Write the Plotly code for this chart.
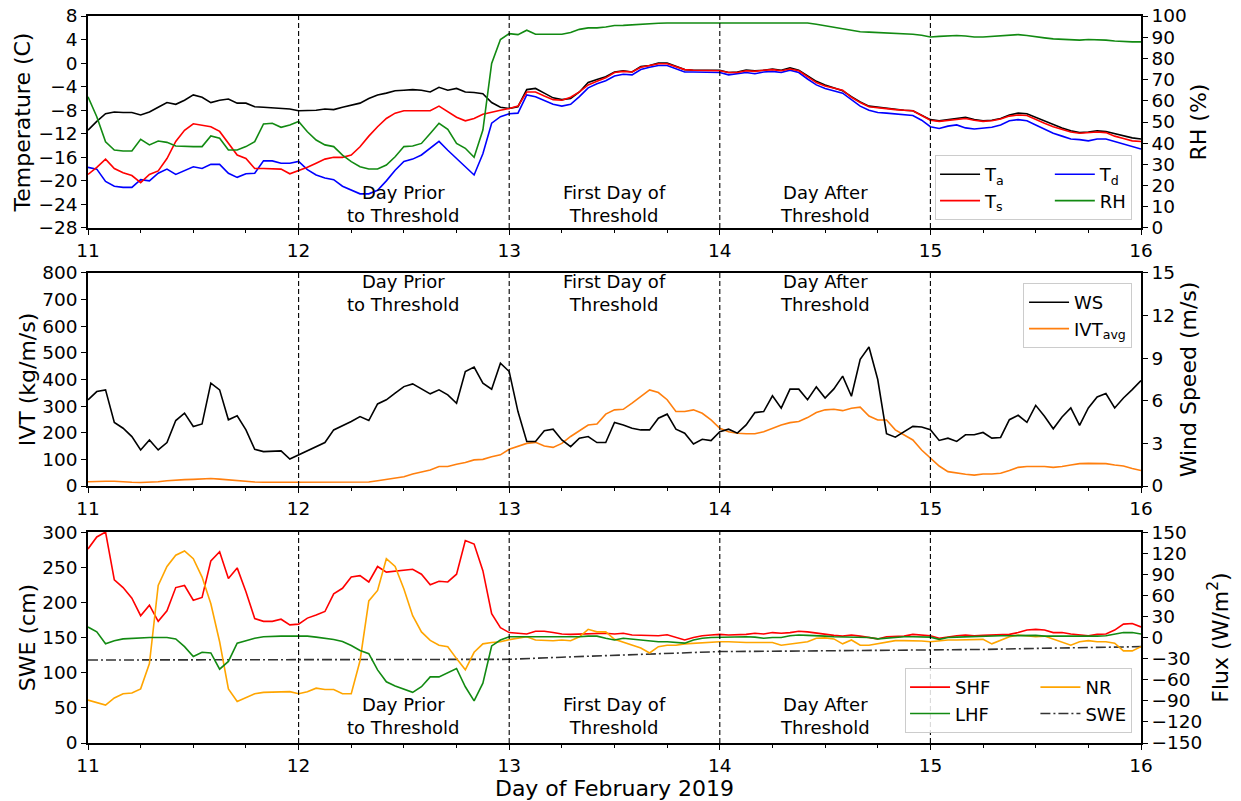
import plotly.graph_objects as go

# ---------------- data (hourly, 11 Feb 00:00 -> 16 Feb 00:00) ----------------
hours = list(range(121))
days = [11 + h / 24 for h in hours]

t_air = [-11.4, -9.9, -8.6, -8.3, -8.4, -8.4, -8.8, -8.3, -7.5, -6.7, -7.0, -6.3, -5.4, -5.8, -6.7, -6.3,
         -6.1, -6.8, -6.8, -7.4, -7.5, -7.6, -7.7, -7.8, -8.1, -8.1, -8.0, -7.8, -7.9, -7.5, -7.2, -6.8,
         -6.0, -5.4, -5.1, -4.7, -4.6, -4.5, -4.6, -4.9, -4.1, -4.6, -4.3, -4.9, -5.0, -5.2, -6.7, -7.5,
         -7.7, -7.4, -4.5, -4.3, -5.1, -5.9, -6.2, -6.0, -4.9, -3.3, -2.8, -2.3, -1.5, -1.3, -1.5, -0.6,
         -0.4, 0.0, 0.0, -0.6, -1.1, -1.2, -1.2, -1.2, -1.2, -1.6, -1.5, -1.2, -1.3, -1.2, -1.0, -1.2,
         -0.8, -1.2, -2.1, -3.1, -3.7, -4.2, -4.7, -5.7, -6.6, -7.3, -7.5, -7.7, -7.9, -8.0, -8.1, -8.8,
         -9.6, -9.8, -9.6, -9.3, -9.2, -9.6, -9.8, -9.7, -9.4, -8.8, -8.5, -8.6, -9.2, -9.9, -10.5, -11.0,
         -11.5, -11.8, -11.7, -11.5, -11.6, -12.0, -12.4, -12.7, -12.9]

t_surf = [-18.9, -17.7, -16.3, -17.9, -18.6, -19.1, -20.3, -18.9, -18.3, -16.2, -13.3, -11.4, -10.3, -10.6,
          -10.8, -11.6, -13.6, -15.6, -16.2, -17.9, -17.9, -17.9, -18.0, -18.8, -18.3, -17.7, -17.0, -16.3,
          -16.0, -16.0, -15.6, -14.2, -12.4, -10.8, -9.4, -8.5, -8.1, -8.1, -8.1, -8.1, -7.3, -8.3, -9.2,
          -9.8, -9.4, -8.7, -8.3, -8.0, -7.7, -7.3, -4.9, -4.9, -5.6, -6.2, -6.3, -5.8, -4.9, -3.7, -3.1,
          -2.5, -1.6, -1.4, -1.5, -0.7, -0.4, -0.1, -0.1, -0.6, -1.1, -1.2, -1.2, -1.3, -1.3, -1.6, -1.6,
          -1.3, -1.4, -1.2, -1.1, -1.3, -1.0, -1.3, -2.3, -3.3, -3.9, -4.3, -4.6, -5.8, -6.7, -7.4, -7.6,
          -7.7, -7.9, -8.0, -8.1, -8.9, -9.7, -9.9, -9.7, -9.5, -9.4, -9.7, -9.9, -9.8, -9.5, -9.0, -8.8,
          -8.9, -9.6, -10.2, -10.8, -11.2, -11.7, -11.9, -11.8, -11.7, -11.8, -12.4, -12.8, -13.2, -13.3]

t_dew = [-17.7, -18.0, -20.1, -20.9, -21.1, -21.1, -19.8, -20.0, -18.7, -18.0, -18.9, -18.2, -17.6, -17.9,
         -17.2, -17.2, -18.7, -19.4, -18.8, -18.7, -16.6, -16.6, -17.0, -17.0, -16.7, -18.1, -19.0, -19.5,
         -19.8, -20.9, -21.5, -22.2, -22.2, -21.6, -20.0, -18.2, -16.7, -16.3, -15.6, -14.5, -13.3, -14.8,
         -16.2, -17.6, -19.0, -15.4, -10.2, -9.1, -8.6, -8.5, -5.4, -5.7, -6.3, -7.0, -7.3, -7.0, -5.7,
         -4.2, -3.5, -3.0, -2.2, -1.9, -2.0, -1.1, -0.7, -0.4, -0.4, -1.0, -1.5, -1.5, -1.5, -1.6, -1.6,
         -2.0, -1.8, -1.6, -1.8, -1.5, -1.4, -1.6, -1.2, -1.6, -2.7, -3.7, -4.3, -4.7, -5.1, -6.2, -7.3,
         -8.0, -8.4, -8.5, -8.6, -8.7, -8.9, -9.7, -10.8, -11.1, -10.7, -10.5, -11.0, -11.2, -11.1, -10.9,
         -10.5, -9.8, -9.6, -9.8, -10.5, -11.2, -11.9, -12.4, -12.9, -13.0, -13.2, -12.9, -12.9, -13.3,
         -13.7, -14.2, -14.6]

rh = [61.9, 52.5, 40.7, 36.8, 36.3, 36.3, 41.8, 39.2, 41.0, 40.4, 38.7, 38.4, 38.4, 38.4, 43.4, 42.3,
      36.8, 36.8, 38.4, 40.7, 49.1, 49.4, 47.5, 48.6, 50.2, 45.4, 41.5, 39.2, 38.4, 34.4, 31.3, 28.9,
      27.8, 27.8, 29.7, 33.6, 38.4, 38.7, 39.9, 44.6, 49.4, 46.5, 39.9, 37.6, 33.4, 46.2, 77.6, 88.9,
      91.7, 91.2, 93.3, 91.4, 91.4, 91.2, 91.4, 92.2, 93.7, 94.4, 94.4, 94.8, 95.5, 95.6, 95.9, 96.0,
      96.4, 96.6, 96.7, 96.7, 96.7, 96.9, 96.9, 96.9, 96.9, 96.9, 96.8, 96.8, 96.9, 96.9, 96.9, 96.9,
      96.9, 96.9, 96.7, 96.1, 95.5, 94.8, 94.0, 93.3, 92.6, 92.4, 92.2, 92.0, 91.9, 91.7, 91.4, 90.9,
      90.1, 90.4, 90.6, 90.8, 90.6, 90.1, 90.1, 90.3, 90.6, 90.9, 91.2, 90.8, 90.1, 89.7, 89.2, 88.9,
      88.6, 88.6, 88.9, 88.9, 88.6, 88.2, 87.9, 87.8, 87.8]

wind_speed = [6.07, 6.65, 6.77, 4.47, 4.07, 3.48, 2.54, 3.24, 2.54, 3.06, 4.61, 5.13, 4.19, 4.37, 7.24,
              6.77, 4.66, 4.94, 3.95, 2.59, 2.42, 2.42, 2.47, 1.90, 2.19, 2.47, 2.77, 3.06, 3.95, 4.23,
              4.54, 4.89, 4.61, 5.78, 6.07, 6.54, 7.00, 7.19, 6.82, 6.49, 6.77, 6.42, 5.83, 8.06, 8.37,
              7.24, 6.82, 8.65, 8.06, 5.24, 3.13, 3.13, 3.90, 4.00, 3.24, 2.77, 3.36, 3.48, 3.06, 3.06,
              4.47, 4.30, 4.07, 3.95, 3.95, 4.77, 5.06, 4.00, 3.72, 2.96, 3.29, 3.20, 3.83, 4.00, 3.72,
              4.30, 5.17, 5.24, 6.35, 5.48, 6.82, 6.82, 6.08, 6.98, 6.20, 6.84, 7.74, 6.32, 8.92, 9.79,
              7.50, 3.68, 3.44, 3.84, 4.20, 4.15, 3.96, 3.21, 3.37, 3.14, 3.61, 3.61, 3.77, 3.37, 3.42,
              4.67, 4.98, 4.48, 5.68, 4.91, 4.03, 4.86, 5.50, 4.27, 5.50, 6.27, 6.51, 5.50, 6.20, 6.79,
              7.43]

ivt_avg = [16, 18, 18, 18, 15, 14, 13, 14, 16, 20, 23, 24, 25, 26, 28, 26, 23, 20, 18, 15, 14, 13, 14, 14,
           14, 14, 13, 13, 14, 14, 14, 14, 15, 20, 25, 28, 35, 45, 53, 60, 73, 73, 82, 88, 98, 100, 110,
           117, 138, 150, 160, 164, 150, 145, 160, 186, 207, 229, 233, 270, 286, 288, 311, 336, 361, 351,
           324, 280, 280, 286, 273, 248, 217, 204, 198, 196, 196, 204, 217, 229, 238, 242, 257, 276, 286,
           288, 283, 292, 296, 263, 248, 248, 211, 192, 173, 135, 104, 75, 54, 48, 44, 41, 45, 45, 48, 58,
           70, 73, 73, 73, 70, 73, 79, 84, 85, 85, 84, 79, 75, 66, 58]

shf = [126, 143, 150, 82, 71, 56, 31, 46, 23, 38, 71, 74, 53, 57, 109, 122, 84, 99, 65, 27, 23, 23, 26, 18,
       19, 27.6, 32, 37, 62, 70, 86, 88, 79, 101, 93, 94, 95, 97, 90, 75, 80, 79, 90, 138, 133, 95, 34, 14,
       7, 6, 5, 9, 9, 7, 5, 4.5, 5, 5, 6, 6, 5, 6, 3.5, 3, 3, 2.5, 4, 0, -3.5, 0, 2.5, 3.5, 4.5, 3.5, 3.5,
       4.5, 6, 5, 7, 6, 7, 9, 8, 6, 4, 3, 2, 3.5, 2, 0, -2, 1, 2, 2, 4.5, 3.5, 2.6, -1, 1, 2.6, 3.5, 2.6, 3,
       3.5, 3, 4.5, 7, 10.6, 11.6, 10.6, 7, 7, 5, 3.5, 2.6, 4.5, 5, 10.6, 19, 20, 15]

lhf = [15, 8, -9, -4.5, -2, -1, 0, 0, 0, 0, -2, -13, -27, -21, -22, -45, -34, -8, -4.5, -1, 1, 2, 2, 2, 2,
       2, 0.5, -0.9, -2.8, -5.7, -11.3, -18.4, -23, -46, -63, -69, -74, -78, -70, -56, -56, -50, -44, -70,
       -90, -65, -12, -3.5, 1, 1, 1, 1, 1, 1, 0, 1, 1, 2, 2, -1, -3.5, -1, -2.5, -3.5, -4.5, -6, -6, -7, -8,
       -3.5, -1, 0, 0.5, 0.5, 0.5, 1, 0.5, -1, 0, 0, 2.6, 3.5, 3, 3, 2, 1, 1, 1, 0.5, 0, -2, -1, 0.5, 1, 1,
       1, 0.5, -2.6, 0, 0.5, 1, 2, 2, 2.5, 2.5, 2.5, 3, 3.5, 3, 2, 2, 1.5, 1, 1, 1, 2, 2.5, 5, 7, 7, 5]

net_rad = [-89, -93, -96, -86, -80, -79, -73, -37, 74, 101, 117, 123, 112, 86, 48, -6, -73, -91, -86, -80,
           -78, -78, -78, -77, -80, -77, -72, -74, -74, -80, -80, -33, 52, 67, 112, 101, 69, 31, 8, -4,
           -11, -13, -30, -46, -21, -9, -7, -6, -3, -1, 1, -3.5, -4.5, -4.5, -3.5, -4.5, 1, 11.6, 8, 8,
           -2.6, -7, -11, -15, -22, -13, -11, -11, -9, -8, -7, -6, -6, -6, -7, -7, -7, -7, -7, -11, -9,
           -8, -6, -1, -0.5, -2, -9, -3.5, -11, -11, -9, -6, -4.5, -4.5, -4.5, -5, -6, -4.5, -3.5, -3.5,
           -3.5, -3.5, -2.6, -9, -4.5, 1, 3.5, 2, 1, 2, -2.6, -7, -11, -6, -4.5, -6, -6, -8, -19, -19, -13]

swe_hours = [0, 6, 12, 18, 24, 30, 36, 42, 48, 54, 60, 66, 72, 78, 84, 90, 96, 102, 108, 114, 120]
swe_days = [11 + h / 24 for h in swe_hours]
swe = [118, 118, 118, 118, 118, 118, 118, 118.5, 119, 122, 125, 127.5, 130, 130.5, 131, 131.5, 132,
       133, 134.5, 136, 137]

day_ticks = [11, 12, 13, 14, 15, 16]
threshold_days = [12, 13, 14, 15]
period_labels = ["Day Prior<br>to Threshold", "First Day of<br>Threshold", "Day After<br>Threshold"]
period_centers = [12.5, 13.5, 14.5]

# ---------------- styling ----------------
FONT = "DejaVu Sans"
TICK_FS = 18.5
TITLE_FS = 22
RED, BLUE, GREEN, BLACK = "#ff0000", "#0000ff", "#128a12", "#000000"
C1_ORANGE, ORANGE = "#ff7f0e", "#ffa500"
LW = 1.6
pad = "&nbsp;" * 7

fig = go.Figure()

# Panel 1: temperatures + RH
fig.add_trace(go.Scatter(x=days, y=t_air, name="T<sub>a</sub>" + pad, line=dict(color=BLACK, width=LW),
                         xaxis="x", yaxis="y", legend="legend", legendgroup="a"))
fig.add_trace(go.Scatter(x=days, y=t_dew, name="T<sub>d</sub>", line=dict(color=BLUE, width=LW),
                         xaxis="x", yaxis="y", legend="legend", legendgroup="b"))
fig.add_trace(go.Scatter(x=days, y=t_surf, name="T<sub>s</sub>" + pad, line=dict(color=RED, width=LW),
                         xaxis="x", yaxis="y", legend="legend", legendgroup="a"))
fig.add_trace(go.Scatter(x=days, y=rh, name="RH", line=dict(color=GREEN, width=LW),
                         xaxis="x", yaxis="y2", legend="legend", legendgroup="b"))

# Panel 2: wind speed + IVT
fig.add_trace(go.Scatter(x=days, y=ivt_avg, name="IVT<sub>avg</sub>", line=dict(color=C1_ORANGE, width=LW),
                         xaxis="x2", yaxis="y3", legend="legend2", legendrank=2))
fig.add_trace(go.Scatter(x=days, y=wind_speed, name="WS", line=dict(color=BLACK, width=LW),
                         xaxis="x2", yaxis="y4", legend="legend2", legendrank=1))

# Panel 3: fluxes + SWE
fig.add_trace(go.Scatter(x=days, y=shf, name="SHF" + pad, line=dict(color=RED, width=LW),
                         xaxis="x3", yaxis="y6", legend="legend3", legendgroup="a"))
fig.add_trace(go.Scatter(x=days, y=net_rad, name="NR", line=dict(color=ORANGE, width=LW),
                         xaxis="x3", yaxis="y6", legend="legend3", legendgroup="b"))
fig.add_trace(go.Scatter(x=days, y=lhf, name="LHF" + pad, line=dict(color=GREEN, width=LW),
                         xaxis="x3", yaxis="y6", legend="legend3", legendgroup="a"))
fig.add_trace(go.Scatter(x=swe_days, y=swe, name="SWE",
                         line=dict(color="#333333", width=LW, dash="10px,3px,2px,3px"),
                         xaxis="x3", yaxis="y5", legend="legend3", legendgroup="b"))

tickfont = dict(family=FONT, size=TICK_FS, color="black")
titlefont = dict(family=FONT, size=TITLE_FS, color="black")


def xaxis(anchor, title=None):
    d = dict(anchor=anchor, domain=[0, 1], range=[11, 16], tickvals=day_ticks,
             showline=True, mirror=True, linecolor="black", linewidth=1.5,
             ticks="outside", ticklen=5, tickwidth=1.3, tickcolor="black",
             minor=dict(ticks="outside", dtick=0.25, tick0=11, ticklen=3, tickwidth=1, tickcolor="black"),
             showgrid=False, zeroline=False, tickfont=tickfont, automargin=False)
    if title:
        d["title"] = dict(text=title, font=titlefont, standoff=0)
    return d


def yaxis(anchor, domain, rng, dtick, title, standoff, side="left", overlaying=None):
    d = dict(anchor=anchor, range=rng, dtick=dtick, tick0=rng[0], side=side,
             showline=True, linecolor="black", linewidth=1.5,
             ticks="outside", ticklen=5, tickwidth=1.3, tickcolor="black",
             showgrid=False, zeroline=False, tickfont=tickfont,
             title=dict(text=title, font=titlefont, standoff=standoff), automargin=False)
    if overlaying:
        d["overlaying"] = overlaying
    else:
        d["domain"] = domain
    return d


D1, D2, D3 = [0.7084, 1.0], [0.3535, 0.6465], [0.0, 0.2902]

legend_common = dict(bgcolor="rgba(255,255,255,0.85)", bordercolor="#cccccc", borderwidth=1,
                     font=dict(family=FONT, size=18, color="black"), xanchor="right", x=0.9915,
                     itemwidth=40)

annotations = []
for yref, ypos, yanc, ysh in [("y domain", 0.0, "bottom", 0), ("y3 domain", 1.0, "top", 4),
                              ("y5 domain", 0.0, "bottom", 3)]:
    for txt, cx in zip(period_labels, period_centers):
        annotations.append(dict(text=txt, x=cx, xref="x", y=ypos, yref=yref, yanchor=yanc, yshift=ysh,
                                showarrow=False, font=dict(family=FONT, size=18, color="black")))

shapes = []
for xr, yr in [("x", "y domain"), ("x2", "y3 domain"), ("x3", "y5 domain")]:
    for d in threshold_days:
        shapes.append(dict(type="line", xref=xr, yref=yr, x0=d, x1=d, y0=0, y1=1,
                           line=dict(color="black", width=1.1, dash="5px,3px")))

fig.update_layout(
    width=1241, height=801,
    margin=dict(l=88, r=100, t=16, b=58),
    paper_bgcolor="white", plot_bgcolor="white",
    font=dict(family=FONT, color="black"),
    xaxis=xaxis("y"),
    xaxis2=xaxis("y3"),
    xaxis3=xaxis("y5", "Day of February 2019"),
    yaxis=yaxis("x", D1, [-28, 8], 4, "Temperature (C)", 2),
    yaxis2=yaxis("x", None, [0, 100], 10, "RH (%)", 5, side="right", overlaying="y"),
    yaxis3=yaxis("x2", D2, [0, 800], 100, "IVT (kg/m/s)", 1),
    yaxis4=yaxis("x2", None, [0, 15], 3, "Wind Speed (m/s)", 7, side="right", overlaying="y3"),
    yaxis5=yaxis("x3", D3, [0, 300], 50, "SWE (cm)", 1),
    yaxis6=yaxis("x3", None, [-150, 150], 30, "Flux (W/m<sup>2</sup>)", 11, side="right", overlaying="y5"),
    legend=dict(**legend_common, orientation="h", traceorder="grouped", y=0.7194, yanchor="bottom"),
    legend2=dict(**legend_common, orientation="v", traceorder="normal", y=0.6327, yanchor="top"),
    legend3=dict(**legend_common, orientation="h", traceorder="grouped", y=0.0138, yanchor="bottom"),
    annotations=annotations,
    shapes=shapes,
    showlegend=True,
)

fig.write_html("out.html")
